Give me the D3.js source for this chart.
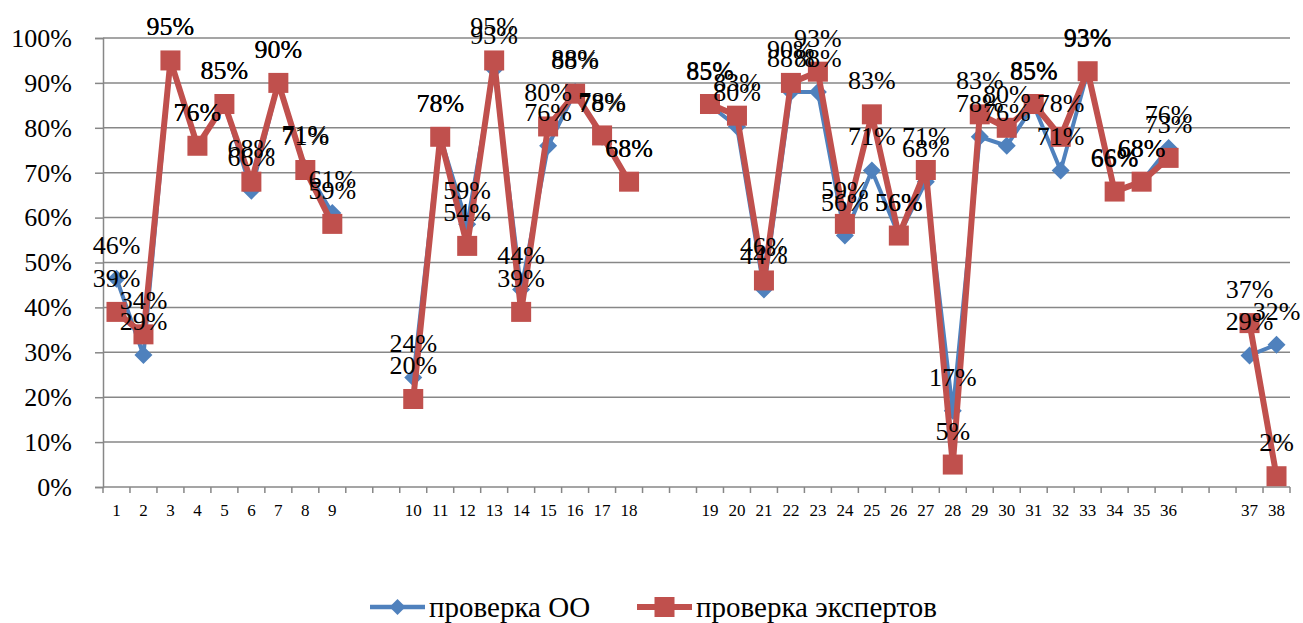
<!DOCTYPE html>
<html>
<head>
<meta charset="utf-8">
<script src="https://cdn.jsdelivr.net/npm/d3@7"></script>
<style>
  body { margin: 0; background: #fff; }
  svg text { font-family: "Liberation Serif", "DejaVu Serif", serif !important; fill: #000; }
</style>
</head>
<body>
<div id="chart"></div>
<script>
// categories ("" = empty slot on the axis)
const categories = ["1","2","3","4","5","6","7","8","9","","",
  "10","11","12","13","14","15","16","17","18","","",
  "19","20","21","22","23","24","25","26","27","28","29","30","31","32","33","34","35","36","","",
  "37","38"];

const seriesNames = ["проверка ОО", "проверка экспертов"];

const checkOO = [0.464,0.294,0.95,0.76,0.853,0.66,0.90,0.71,0.61,null,null,
  0.244,0.78,0.585,0.93,0.44,0.76,0.88,0.78,0.68,null,null,
  0.85,0.803,0.44,0.88,0.88,0.56,0.705,0.56,0.68,0.17,0.78,0.76,0.85,0.705,0.925,0.66,0.68,0.755,null,null,
  0.293,0.317];

const checkExperts = [0.39,0.34,0.95,0.76,0.853,0.68,0.90,0.706,0.586,null,null,
  0.196,0.78,0.537,0.95,0.39,0.803,0.876,0.783,0.68,null,null,
  0.853,0.827,0.46,0.90,0.925,0.586,0.83,0.56,0.706,0.05,0.83,0.80,0.853,0.78,0.926,0.658,0.68,0.733,null,null,
  0.365,0.024];

const yTicks = [0,0.1,0.2,0.3,0.4,0.5,0.6,0.7,0.8,0.9,1.0];

const width = 1303, height = 623;
const plot = { left: 103, right: 1290, top: 38, bottom: 487 };
const gridColor = "#878787";
const blue = "#4F81BD", red = "#C0504D";
const serif = "'Liberation Serif', 'DejaVu Serif', serif";

const svg = d3.select("#chart")
    .append("svg")
    .attr("width", width)
    .attr("height", height)
    .attr("font-family", serif);

const x = d3.scaleBand()
    .domain(d3.range(categories.length))
    .range([plot.left, plot.right]);

const y = d3.scaleLinear()
    .domain([0, 1])
    .range([plot.bottom, plot.top]);

const pct = d3.format(".0%");

// gridlines
svg.append("g")
    .selectAll("line")
    .data(yTicks.filter(d => d > 0))
    .enter().append("line")
    .attr("x1", plot.left)
    .attr("x2", plot.right)
    .attr("y1", d => y(d))
    .attr("y2", d => y(d))
    .attr("stroke", gridColor)
    .attr("stroke-width", 1.5);

// y axis
const yAxis = svg.append("g")
    .attr("transform", `translate(${plot.left},0)`)
    .call(d3.axisLeft(y).tickValues(yTicks).tickFormat(pct).tickSize(8).tickPadding(23));
yAxis.attr("font-family", serif).attr("font-size", 26);
yAxis.selectAll("line, path").attr("stroke", gridColor).attr("stroke-width", 1.5);

// x axis
const xAxis = svg.append("g")
    .attr("transform", `translate(0,${plot.bottom})`);
xAxis.append("line")
    .attr("x1", plot.left).attr("x2", plot.right)
    .attr("stroke", gridColor).attr("stroke-width", 1.5);
xAxis.selectAll(".tick")
    .data(d3.range(categories.length + 1))
    .enter().append("line")
    .attr("x1", i => plot.left + i * x.step())
    .attr("x2", i => plot.left + i * x.step())
    .attr("y1", 0).attr("y2", 6)
    .attr("stroke", gridColor).attr("stroke-width", 1.5);
xAxis.selectAll(".lbl")
    .data(categories)
    .enter().append("text")
    .attr("x", (d, i) => x(i) + x.bandwidth() / 2)
    .attr("y", 29)
    .attr("text-anchor", "middle")
    .attr("font-size", 17)
    .text(d => d);

const line = d3.line()
    .defined(d => d.v !== null)
    .x(d => x(d.i) + x.bandwidth() / 2)
    .y(d => y(d.v));

const blueData = checkOO.map((v, i) => ({ i, v }));
const redData = checkExperts.map((v, i) => ({ i, v }));

// blue series
svg.append("path")
    .datum(blueData)
    .attr("fill", "none")
    .attr("stroke", blue)
    .attr("stroke-width", 4)
    .attr("stroke-linejoin", "round")
    .attr("d", line);

svg.append("g")
    .selectAll("path")
    .data(blueData.filter(d => d.v !== null))
    .enter().append("path")
    .attr("transform", d => `translate(${x(d.i) + x.bandwidth() / 2},${y(d.v)})`)
    .attr("d", "M0,-9L9,0L0,9L-9,0Z")
    .attr("fill", blue);

// red series
svg.append("path")
    .datum(redData)
    .attr("fill", "none")
    .attr("stroke", red)
    .attr("stroke-width", 6)
    .attr("stroke-linejoin", "round")
    .attr("d", line);

svg.append("g")
    .selectAll("rect")
    .data(redData.filter(d => d.v !== null))
    .enter().append("rect")
    .attr("x", d => x(d.i) + x.bandwidth() / 2 - 10)
    .attr("y", d => y(d.v) - 10)
    .attr("width", 20)
    .attr("height", 20)
    .attr("fill", red);

// data labels
[blueData, redData].forEach(data => {
    svg.append("g")
        .selectAll("text")
        .data(data.filter(d => d.v !== null))
        .enter().append("text")
        .attr("x", d => x(d.i) + x.bandwidth() / 2)
        .attr("y", d => y(d.v) - 25)
        .attr("text-anchor", "middle")
        .attr("font-size", 26)
        .text(d => pct(d.v));
});

// legend
const legend = svg.append("g")
    .attr("transform", "translate(0,607)");

const legendItems = [
    { name: seriesNames[0], color: blue, x0: 370, w: 4.5, marker: "diamond" },
    { name: seriesNames[1], color: red, x0: 637, w: 6, marker: "square" }
];

legendItems.forEach(it => {
    legend.append("line")
        .attr("x1", it.x0).attr("x2", it.x0 + 55)
        .attr("stroke", it.color).attr("stroke-width", it.w);
    if (it.marker === "diamond") {
        legend.append("path")
            .attr("transform", `translate(${it.x0 + 27.5},0)`)
            .attr("d", "M0,-8L8,0L0,8L-8,0Z")
            .attr("fill", it.color);
    } else {
        legend.append("rect")
            .attr("x", it.x0 + 17.5).attr("y", -10)
            .attr("width", 20).attr("height", 20)
            .attr("fill", it.color);
    }
    legend.append("text")
        .attr("x", it.x0 + 59)
        .attr("y", 10)
        .attr("font-size", 29)
        .text(it.name);
});
</script>
</body>
</html>
